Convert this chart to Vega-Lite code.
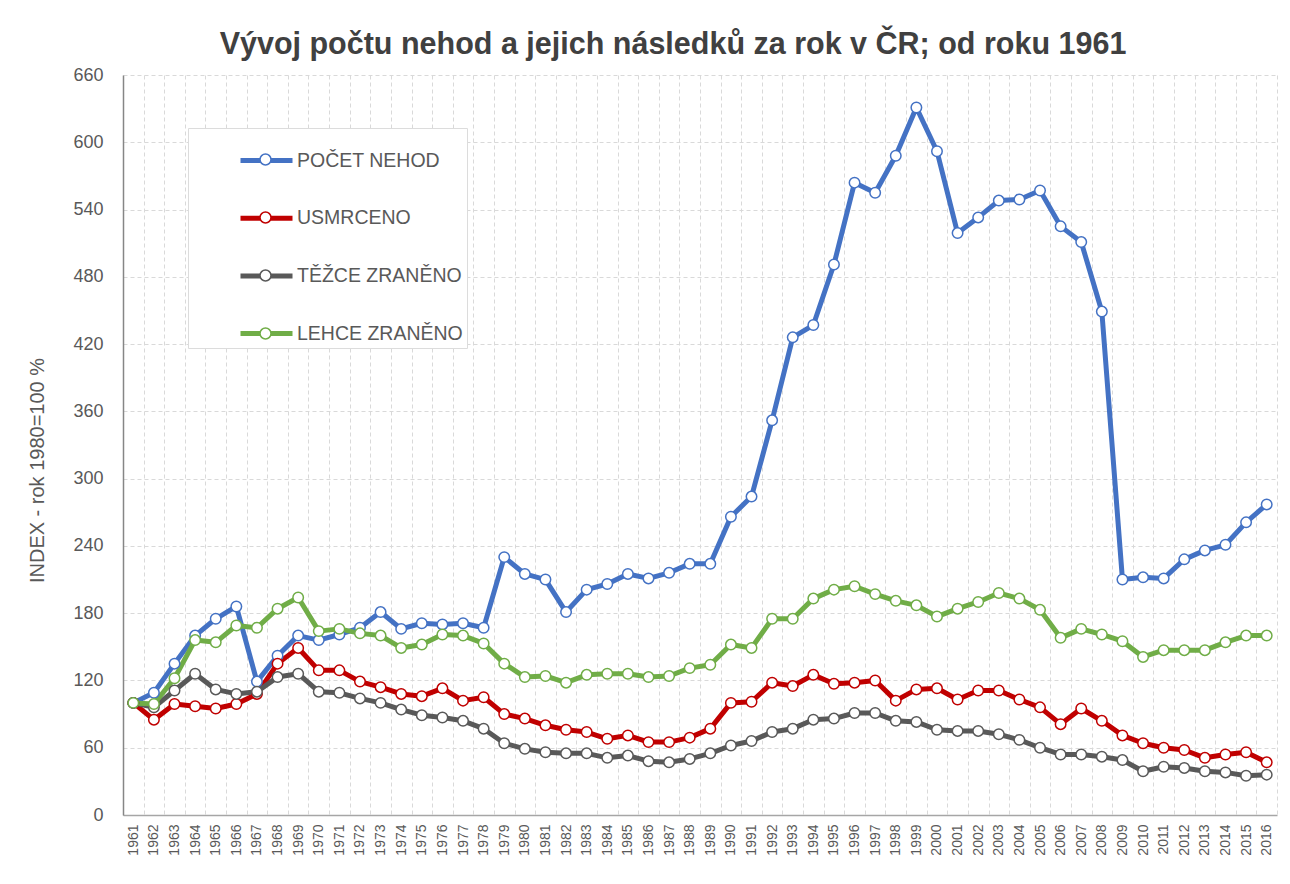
{
  "$schema": "https://vega.github.io/schema/vega-lite/v6.json",
  "width": 1154,
  "height": 740,
  "autosize": {"type": "none"},
  "padding": {"left": 123, "top": 75, "right": 13, "bottom": 69},
  "background": "white",
  "config": {"font": "Liberation Sans", "view": {"stroke": null}},
  "title": {
    "text": "Vývoj počtu nehod a jejich následků za rok v ČR; od roku 1961",
    "fontSize": 30.5,
    "fontWeight": "bold",
    "color": "#404040",
    "font": "Liberation Sans",
    "anchor": "middle",
    "dx": -27,
    "offset": 6
  },
  "data": {
    "values": [
      {"year": 1961, "POČET NEHOD": 100, "USMRCENO": 100, "TĚŽCE ZRANĚNO": 100, "LEHCE ZRANĚNO": 100},
      {"year": 1962, "POČET NEHOD": 109, "USMRCENO": 85, "TĚŽCE ZRANĚNO": 96, "LEHCE ZRANĚNO": 99},
      {"year": 1963, "POČET NEHOD": 135, "USMRCENO": 99, "TĚŽCE ZRANĚNO": 111, "LEHCE ZRANĚNO": 122},
      {"year": 1964, "POČET NEHOD": 160, "USMRCENO": 97, "TĚŽCE ZRANĚNO": 126, "LEHCE ZRANĚNO": 156},
      {"year": 1965, "POČET NEHOD": 175, "USMRCENO": 95, "TĚŽCE ZRANĚNO": 112, "LEHCE ZRANĚNO": 154},
      {"year": 1966, "POČET NEHOD": 186, "USMRCENO": 99, "TĚŽCE ZRANĚNO": 108, "LEHCE ZRANĚNO": 169},
      {"year": 1967, "POČET NEHOD": 119, "USMRCENO": 108, "TĚŽCE ZRANĚNO": 110, "LEHCE ZRANĚNO": 167},
      {"year": 1968, "POČET NEHOD": 142, "USMRCENO": 135, "TĚŽCE ZRANĚNO": 123, "LEHCE ZRANĚNO": 184},
      {"year": 1969, "POČET NEHOD": 160, "USMRCENO": 149, "TĚŽCE ZRANĚNO": 126, "LEHCE ZRANĚNO": 194},
      {"year": 1970, "POČET NEHOD": 156, "USMRCENO": 129, "TĚŽCE ZRANĚNO": 110, "LEHCE ZRANĚNO": 164},
      {"year": 1971, "POČET NEHOD": 161, "USMRCENO": 129, "TĚŽCE ZRANĚNO": 109, "LEHCE ZRANĚNO": 166},
      {"year": 1972, "POČET NEHOD": 167, "USMRCENO": 119, "TĚŽCE ZRANĚNO": 104, "LEHCE ZRANĚNO": 162},
      {"year": 1973, "POČET NEHOD": 181, "USMRCENO": 114, "TĚŽCE ZRANĚNO": 100, "LEHCE ZRANĚNO": 160},
      {"year": 1974, "POČET NEHOD": 166, "USMRCENO": 108, "TĚŽCE ZRANĚNO": 94, "LEHCE ZRANĚNO": 149},
      {"year": 1975, "POČET NEHOD": 171, "USMRCENO": 106, "TĚŽCE ZRANĚNO": 89, "LEHCE ZRANĚNO": 152},
      {"year": 1976, "POČET NEHOD": 170, "USMRCENO": 113, "TĚŽCE ZRANĚNO": 87, "LEHCE ZRANĚNO": 161},
      {"year": 1977, "POČET NEHOD": 171, "USMRCENO": 102, "TĚŽCE ZRANĚNO": 84, "LEHCE ZRANĚNO": 160},
      {"year": 1978, "POČET NEHOD": 167, "USMRCENO": 105, "TĚŽCE ZRANĚNO": 77, "LEHCE ZRANĚNO": 153},
      {"year": 1979, "POČET NEHOD": 230, "USMRCENO": 90, "TĚŽCE ZRANĚNO": 64, "LEHCE ZRANĚNO": 135},
      {"year": 1980, "POČET NEHOD": 215, "USMRCENO": 86, "TĚŽCE ZRANĚNO": 59, "LEHCE ZRANĚNO": 123},
      {"year": 1981, "POČET NEHOD": 210, "USMRCENO": 80, "TĚŽCE ZRANĚNO": 56, "LEHCE ZRANĚNO": 124},
      {"year": 1982, "POČET NEHOD": 181, "USMRCENO": 76, "TĚŽCE ZRANĚNO": 55, "LEHCE ZRANĚNO": 118},
      {"year": 1983, "POČET NEHOD": 201, "USMRCENO": 74, "TĚŽCE ZRANĚNO": 55, "LEHCE ZRANĚNO": 125},
      {"year": 1984, "POČET NEHOD": 206, "USMRCENO": 68, "TĚŽCE ZRANĚNO": 51, "LEHCE ZRANĚNO": 126},
      {"year": 1985, "POČET NEHOD": 215, "USMRCENO": 71, "TĚŽCE ZRANĚNO": 53, "LEHCE ZRANĚNO": 126},
      {"year": 1986, "POČET NEHOD": 211, "USMRCENO": 65, "TĚŽCE ZRANĚNO": 48, "LEHCE ZRANĚNO": 123},
      {"year": 1987, "POČET NEHOD": 216, "USMRCENO": 65, "TĚŽCE ZRANĚNO": 47, "LEHCE ZRANĚNO": 124},
      {"year": 1988, "POČET NEHOD": 224, "USMRCENO": 69, "TĚŽCE ZRANĚNO": 50, "LEHCE ZRANĚNO": 131},
      {"year": 1989, "POČET NEHOD": 224, "USMRCENO": 77, "TĚŽCE ZRANĚNO": 55, "LEHCE ZRANĚNO": 134},
      {"year": 1990, "POČET NEHOD": 266, "USMRCENO": 100, "TĚŽCE ZRANĚNO": 62, "LEHCE ZRANĚNO": 152},
      {"year": 1991, "POČET NEHOD": 284, "USMRCENO": 101, "TĚŽCE ZRANĚNO": 66, "LEHCE ZRANĚNO": 149},
      {"year": 1992, "POČET NEHOD": 352, "USMRCENO": 118, "TĚŽCE ZRANĚNO": 74, "LEHCE ZRANĚNO": 175},
      {"year": 1993, "POČET NEHOD": 426, "USMRCENO": 115, "TĚŽCE ZRANĚNO": 77, "LEHCE ZRANĚNO": 175},
      {"year": 1994, "POČET NEHOD": 437, "USMRCENO": 125, "TĚŽCE ZRANĚNO": 85, "LEHCE ZRANĚNO": 193},
      {"year": 1995, "POČET NEHOD": 491, "USMRCENO": 117, "TĚŽCE ZRANĚNO": 86, "LEHCE ZRANĚNO": 201},
      {"year": 1996, "POČET NEHOD": 564, "USMRCENO": 118, "TĚŽCE ZRANĚNO": 91, "LEHCE ZRANĚNO": 204},
      {"year": 1997, "POČET NEHOD": 555, "USMRCENO": 120, "TĚŽCE ZRANĚNO": 91, "LEHCE ZRANĚNO": 197},
      {"year": 1998, "POČET NEHOD": 588, "USMRCENO": 102, "TĚŽCE ZRANĚNO": 84, "LEHCE ZRANĚNO": 191},
      {"year": 1999, "POČET NEHOD": 631, "USMRCENO": 112, "TĚŽCE ZRANĚNO": 83, "LEHCE ZRANĚNO": 187},
      {"year": 2000, "POČET NEHOD": 592, "USMRCENO": 113, "TĚŽCE ZRANĚNO": 76, "LEHCE ZRANĚNO": 177},
      {"year": 2001, "POČET NEHOD": 519, "USMRCENO": 103, "TĚŽCE ZRANĚNO": 75, "LEHCE ZRANĚNO": 184},
      {"year": 2002, "POČET NEHOD": 533, "USMRCENO": 111, "TĚŽCE ZRANĚNO": 75, "LEHCE ZRANĚNO": 190},
      {"year": 2003, "POČET NEHOD": 548, "USMRCENO": 111, "TĚŽCE ZRANĚNO": 72, "LEHCE ZRANĚNO": 198},
      {"year": 2004, "POČET NEHOD": 549, "USMRCENO": 103, "TĚŽCE ZRANĚNO": 67, "LEHCE ZRANĚNO": 193},
      {"year": 2005, "POČET NEHOD": 557, "USMRCENO": 96, "TĚŽCE ZRANĚNO": 60, "LEHCE ZRANĚNO": 183},
      {"year": 2006, "POČET NEHOD": 525, "USMRCENO": 81, "TĚŽCE ZRANĚNO": 54, "LEHCE ZRANĚNO": 158},
      {"year": 2007, "POČET NEHOD": 511, "USMRCENO": 95, "TĚŽCE ZRANĚNO": 54, "LEHCE ZRANĚNO": 166},
      {"year": 2008, "POČET NEHOD": 449, "USMRCENO": 84, "TĚŽCE ZRANĚNO": 52, "LEHCE ZRANĚNO": 161},
      {"year": 2009, "POČET NEHOD": 210, "USMRCENO": 71, "TĚŽCE ZRANĚNO": 49, "LEHCE ZRANĚNO": 155},
      {"year": 2010, "POČET NEHOD": 212, "USMRCENO": 64, "TĚŽCE ZRANĚNO": 39, "LEHCE ZRANĚNO": 141},
      {"year": 2011, "POČET NEHOD": 211, "USMRCENO": 60, "TĚŽCE ZRANĚNO": 43, "LEHCE ZRANĚNO": 147},
      {"year": 2012, "POČET NEHOD": 228, "USMRCENO": 58, "TĚŽCE ZRANĚNO": 42, "LEHCE ZRANĚNO": 147},
      {"year": 2013, "POČET NEHOD": 236, "USMRCENO": 51, "TĚŽCE ZRANĚNO": 39, "LEHCE ZRANĚNO": 147},
      {"year": 2014, "POČET NEHOD": 241, "USMRCENO": 54, "TĚŽCE ZRANĚNO": 38, "LEHCE ZRANĚNO": 154},
      {"year": 2015, "POČET NEHOD": 261, "USMRCENO": 56, "TĚŽCE ZRANĚNO": 35, "LEHCE ZRANĚNO": 160},
      {"year": 2016, "POČET NEHOD": 277, "USMRCENO": 47, "TĚŽCE ZRANĚNO": 36, "LEHCE ZRANĚNO": 160}
    ]
  },
  "transform": [
    {"fold": ["POČET NEHOD", "USMRCENO", "TĚŽCE ZRANĚNO", "LEHCE ZRANĚNO"], "as": ["series", "value"]}
  ],
  "encoding": {
    "x": {
      "field": "year",
      "type": "ordinal",
      "scale": {"type": "band", "paddingInner": 0, "paddingOuter": 0},
      "bandPosition": 0.5,
      "axis": {
        "title": null,
        "grid": true,
        "gridDash": [4, 3],
        "gridColor": "#d9d9d9",
        "gridWidth": 1,
        "tickBand": "extent",
        "ticks": false,
        "domain": true,
        "domainColor": "#a6a6a6",
        "domainWidth": 1.5,
        "labelAngle": -90,
        "labelAlign": "right",
        "labelBaseline": "middle",
        "labelFontSize": 14,
        "labelColor": "#595959",
        "labelPadding": 9
      }
    },
    "y": {
      "field": "value",
      "type": "quantitative",
      "scale": {"domain": [0, 660], "nice": false},
      "axis": {
        "values": [0, 60, 120, 180, 240, 300, 360, 420, 480, 540, 600, 660],
        "title": "INDEX - rok 1980=100 %",
        "titleFontSize": 20,
        "titleFontWeight": "normal",
        "titleColor": "#595959",
        "titleX": -76,
        "titleY": 395,
        "grid": true,
        "gridDash": [4, 3],
        "gridColor": "#d9d9d9",
        "ticks": false,
        "domain": true,
        "domainColor": "#868686",
        "domainWidth": 1.5,
        "labelFontSize": 18,
        "labelColor": "#595959",
        "labelPadding": 20
      }
    }
  },
  "layer": [
    {
      "mark": {"type": "line", "strokeWidth": 5, "strokeJoin": "round", "strokeCap": "round"},
      "encoding": {
        "color": {
          "field": "series",
          "type": "nominal",
          "scale": {
            "domain": ["POČET NEHOD", "USMRCENO", "TĚŽCE ZRANĚNO", "LEHCE ZRANĚNO"],
            "range": ["#4472C4", "#C00000", "#595959", "#70AD47"]
          },
          "legend": {
            "orient": "none",
            "legendX": 65,
            "legendY": 53,
            "title": null,
            "symbolType": "stroke",
            "symbolSize": 2704,
            "symbolStrokeWidth": 5,
            "symbolOffset": 46,
            "labelOffset": 2,
            "labelFontSize": 19.5,
            "labelColor": "#595959",
            "labelLimit": 400,
            "rowPadding": 18.7,
            "padding": 4,
            "fillColor": "white",
            "strokeColor": "#dcdcdc",
            "zindex": 1
          }
        }
      }
    },
    {
      "mark": {"type": "point", "shape": "circle", "filled": true, "fill": "white", "size": 110, "strokeWidth": 1.5, "opacity": 1},
      "encoding": {
        "stroke": {
          "field": "series",
          "type": "nominal",
          "sort": ["POČET NEHOD", "USMRCENO", "TĚŽCE ZRANĚNO", "LEHCE ZRANĚNO"],
          "scale": {
            "range": ["#4472C4", "#C00000", "#595959", "#70AD47"]
          },
          "legend": {
            "orient": "none",
            "legendX": 133,
            "legendY": 75,
            "title": null,
            "symbolType": "circle",
            "symbolSize": 121,
            "symbolStrokeWidth": 1.5,
            "symbolFillColor": "white",
            "labelFontSize": 19,
            "labelExpr": "''",
            "rowPadding": 38,
            "padding": 0,
            "zindex": 2
          }
        }
      }
    }
  ]
}
